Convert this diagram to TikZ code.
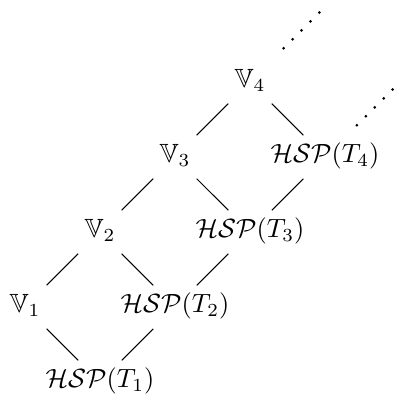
\documentclass[tikz,border=0pt]{standalone}
\usepackage{amsmath,amssymb}
\usetikzlibrary{positioning}

\begin{document}
\begin{tikzpicture}[-,auto,node distance=1cm and 1cm,on grid,main node/.style={text height=7pt,text depth=2.5pt,inner sep=3.3pt},dots/.style={line width=0.8pt,dash pattern=on 0.8pt off 4pt}]

  \useasboundingbox (-0.333cm,-1.253cm) rectangle (4.973cm,4.093cm);

  \node[main node] (v1) at (0,0) {$\mathbb{V}_1$};
  \node[main node] (t1) [below right=of v1] {$\mathcal{HSP}(T_1)$};
  \node[main node] (v2) [above right=of v1] {$\mathbb{V}_2$};
  \node[main node] (t2) [below right=of v2] {$\mathcal{HSP}(T_2)$};
  \node[main node] (v3) [above right=of v2] {$\mathbb{V}_3$};
  \node[main node] (t3) [below right=of v3] {$\mathcal{HSP}(T_3)$};
  \node[main node] (v4) [above right=of v3] {$\mathbb{V}_4$};
  \node[main node] (t4) [below right=of v4] {$\mathcal{HSP}(T_4)$};
  \coordinate[above right=of v4] (v5);
  \coordinate[above right=of t4] (t5);

  \path
  (v1) edge (t1)
    edge (v2)
  (t2) edge (t1)
    edge (v2)
    edge (t3)
  (v3) edge (v2)
    edge (t3)
    edge (v4)
  (t4) edge (t3)
    edge (v4)
   ;
  \draw[dots,shorten <=6pt,shorten >=-1.4pt] (v4) -- (v5);
  \draw[dots,shorten <=5pt,shorten >=3.5pt] (t4) -- (t5);

\end{tikzpicture}
\end{document}
